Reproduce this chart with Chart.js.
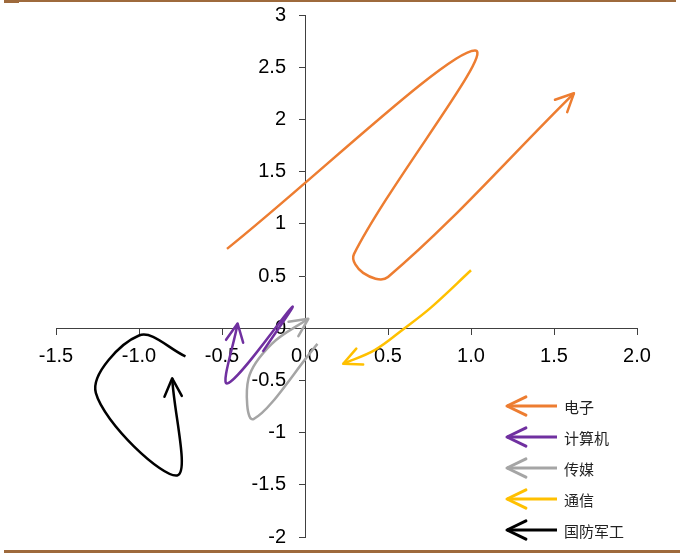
<!DOCTYPE html>
<html>
<head>
<meta charset="utf-8">
<script src="https://cdn.jsdelivr.net/npm/chart.js@4.4.1/dist/chart.umd.min.js"></script>
<style>
    html, body { margin: 0; padding: 0; background: #fff; }
    #wrap { position: relative; width: 680px; height: 553px; }
    #topLine { position: absolute; left: 4px; top: 0; width: 672px; height: 2px; background: #9e6a3c; }
    #topMark { position: absolute; left: 4px; top: 0; width: 15px; height: 3px; background: #9e6a3c; }
    #bottomLine { position: absolute; left: 4px; top: 550px; width: 676px; height: 3px; background: #9e6a3c; }
</style>
</head>
<body>
<div id="wrap">
    <canvas id="rotationChart" width="680" height="553"></canvas>
    <div id="topLine"></div>
    <div id="topMark"></div>
    <div id="bottomLine"></div>
</div>
<script>
// series names and colours
const seriesNames = ['电子', '计算机', '传媒', '通信', '国防军工'];
const seriesColors = ['#ed7d31', '#7030a0', '#a5a5a5', '#ffc000', '#000000'];

// x = relative strength, y = momentum
const dianziX = [-0.47, 1.025, 0.295, 0.35, 0.50, 1.62];
const dianziY = [0.76, 2.66, 0.71, 0.53, 0.49, 2.25];

const jisuanjiX = [-0.255, -0.077, -0.467, -0.406];
const jisuanjiY = [-0.227, 0.204, -0.529, 0.045];

const chuanmeiX = [0.075, -0.31, -0.34, -0.2, 0.02];
const chuanmeiY = [-0.15, -0.87, -0.48, -0.15, 0.09];

const tongxinX = [1.0, 0.76, 0.60, 0.42, 0.23];
const tongxinY = [0.555, 0.20, 0.0, -0.21, -0.34];

const guofangX = [-0.72, -1.0, -1.26, -0.77, -0.80];
const guofangY = [-0.27, -0.07, -0.62, -1.41, -0.48];

// tick values
const xTickValues = [-1.5, -1.0, -0.5, 0.0, 0.5, 1.0, 1.5, 2.0];
const yTickValues = [-2, -1.5, -1, -0.5, 0, 0.5, 1, 1.5, 2, 2.5, 3];

const allX = [dianziX, jisuanjiX, chuanmeiX, tongxinX, guofangX];
const allY = [dianziY, jisuanjiY, chuanmeiY, tongxinY, guofangY];

function toPoints(xs, ys) {
    return xs.map((x, i) => ({ x: x, y: ys[i] }));
}

const datasets = seriesNames.map((name, i) => ({
    label: name,
    data: toPoints(allX[i], allY[i]),
    borderColor: seriesColors[i],
    backgroundColor: seriesColors[i],
    borderWidth: 2.5,
    pointRadius: 0,
    showLine: true,
    tension: 0.35,
    fill: false
}));

// draws an open arrow head
function drawArrowHead(ctx, tipX, tipY, angle, len, color, width) {
    const spread = Math.PI / 7;
    ctx.save();
    ctx.strokeStyle = color;
    ctx.lineWidth = width;
    ctx.lineCap = 'round';
    ctx.lineJoin = 'round';
    ctx.beginPath();
    ctx.moveTo(tipX - len * Math.cos(angle - spread), tipY - len * Math.sin(angle - spread));
    ctx.lineTo(tipX, tipY);
    ctx.lineTo(tipX - len * Math.cos(angle + spread), tipY - len * Math.sin(angle + spread));
    ctx.stroke();
    ctx.restore();
}

// y labels sit left of the tick marks (chart.js puts them on the axis line)
const yLabelShift = {
    id: 'yLabelShift',
    beforeDraw(chart) {
        const items = chart.scales.y.getLabelItems();
        if (items._shifted) return;
        items.forEach(it => { it.options.translation[0] -= 19; });
        items._shifted = true;
    }
};

// arrow heads at the last point of each line
const arrowPlugin = {
    id: 'arrowHeads',
    afterDatasetsDraw(chart) {
        const ctx = chart.ctx;
        chart.data.datasets.forEach((ds, i) => {
            const pts = chart.getDatasetMeta(i).data;
            const last = pts[pts.length - 1];
            let fromX = last.cp1x, fromY = last.cp1y;
            if (fromX === undefined || (Math.abs(fromX - last.x) < 0.5 && Math.abs(fromY - last.y) < 0.5)) {
                fromX = pts[pts.length - 2].x;
                fromY = pts[pts.length - 2].y;
            }
            const angle = Math.atan2(last.y - fromY, last.x - fromX);
            drawArrowHead(ctx, last.x, last.y, angle, 20, ds.borderColor, 2.5);
        });
    }
};

// legend with left-pointing arrows in the lower right
const arrowLegend = {
    id: 'arrowLegend',
    afterDraw(chart) {
        const ctx = chart.ctx;
        const x0 = 507, x1 = 557, top = 406, gap = 31;
        chart.data.datasets.forEach((ds, i) => {
            const y = top + i * gap;
            ctx.save();
            ctx.strokeStyle = ds.borderColor;
            ctx.lineWidth = 3;
            ctx.beginPath();
            ctx.moveTo(x0, y);
            ctx.lineTo(x1, y);
            ctx.stroke();
            ctx.restore();
            drawArrowHead(ctx, x0, y, Math.PI, 21, ds.borderColor, 3);
            ctx.save();
            ctx.fillStyle = '#222';
            ctx.font = '15px "Noto Sans CJK SC"';
            ctx.textBaseline = 'middle';
            ctx.fillText(ds.label, 564, y + 1);
            ctx.restore();
        });
    }
};

const ctx = document.getElementById('rotationChart').getContext('2d');
window.rotationChart = new Chart(ctx, {
    type: 'scatter',
    data: { datasets: datasets },
    options: {
        responsive: false,
        animation: false,
        layout: { padding: { left: 56, right: 43, top: 14, bottom: 16 } },
        plugins: {
            legend: { display: false },
            tooltip: { enabled: false }
        },
        scales: {
            x: {
                type: 'linear',
                min: -1.5,
                max: 2.0,
                position: { y: 0 },
                afterFit: s => { s.height = 0; },
                afterBuildTicks: s => { s.ticks = xTickValues.map(v => ({ value: v })); },
                grid: { drawOnChartArea: false, tickLength: 6, color: '#404040', tickColor: '#404040' },
                border: { display: true, color: '#404040', width: 1 },
                ticks: {
                    color: '#000',
                    font: { family: '"Liberation Sans", Arial', size: 20 },
                    padding: 10,
                    maxRotation: 0,
                    callback: v => Number(v).toFixed(1)
                }
            },
            y: {
                type: 'linear',
                min: -2,
                max: 3,
                position: { x: 0 },
                afterFit: s => { s.width = 0; },
                afterBuildTicks: s => { s.ticks = yTickValues.map(v => ({ value: v })); },
                grid: { drawOnChartArea: false, tickLength: 6, color: '#404040', tickColor: '#404040' },
                border: { display: true, color: '#404040', width: 1 },
                ticks: {
                    color: '#000',
                    font: { family: '"Liberation Sans", Arial', size: 20 },
                    callback: v => String(v)
                }
            }
        }
    },
    plugins: [yLabelShift, arrowPlugin, arrowLegend]
});
</script>
</body>
</html>
